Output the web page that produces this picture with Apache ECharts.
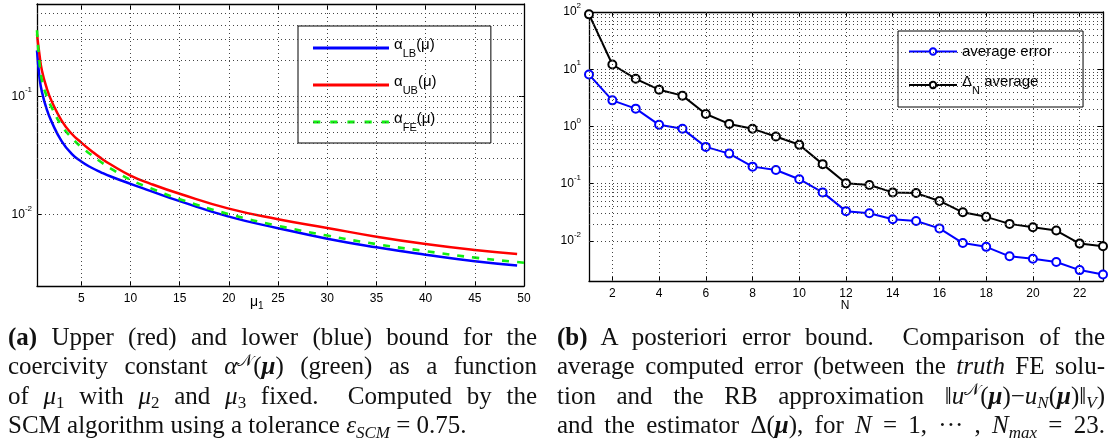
<!DOCTYPE html>
<html><head><meta charset="utf-8">
<script src="https://cdn.jsdelivr.net/npm/echarts@6/dist/echarts.min.js"></script>
<style>
html,body{margin:0;padding:0;background:#fff;}
#wrap{position:relative;width:1110px;height:441px;overflow:hidden;background:#fff;}
#chart{position:absolute;left:0;top:0;width:1110px;height:441px;}
.cap{position:absolute;font-family:'Liberation Serif','DejaVu Serif',serif;font-size:25px;line-height:29.3px;color:#111;}
.cap .l{white-space:nowrap;text-align:justify;text-align-last:justify;}
.cap .last{white-space:nowrap;text-align:left;}
.cap sub,.cap sup{font-size:68%;line-height:0;position:relative;vertical-align:baseline;}
.cap sup{top:-0.48em;}
.cap sub{top:0.28em;}
</style>
</head><body>
<div id="wrap">
<div id="chart"></div>
<div class="cap" style="left:8px;top:322px;width:529px;">
 <div class="l"><b>(a)</b> Upper (red) and lower (blue) bound for the</div>
 <div class="l">coercivity constant <i>α</i><sup>𝒩</sup>(<b><i>μ</i></b>) (green) as a function</div>
 <div class="l">of <i>μ</i><sub>1</sub> with <i>μ</i><sub>2</sub> and <i>μ</i><sub>3</sub> fixed.&nbsp; Computed by the</div>
 <div class="last">SCM algorithm using a tolerance <i>ε</i><sub><i>SCM</i></sub> = 0.75.</div>
</div>
<div class="cap" style="left:557px;top:322px;width:548px;">
 <div class="l"><b>(b)</b> A posteriori error bound.&nbsp; Comparison of the</div>
 <div class="l">average computed error (between the <i>truth</i> FE solu-</div>
 <div class="l">tion and the RB approximation ‖<i>u</i><sup>𝒩</sup>(<b><i>μ</i></b>)−<i>u</i><sub><i>N</i></sub>(<b><i>μ</i></b>)‖<sub><i>V</i></sub>)</div>
 <div class="l">and the estimator Δ(<b><i>μ</i></b>), for <i>N</i> = 1, ··· , <i>N</i><sub><i>max</i></sub> = 23.</div>
</div>
</div>
<script>
// ---------- (a) coercivity bounds vs mu_1 ----------
const mu1 = [0.5, 0.75, 1, 1.5, 2, 3, 4, 5, 6, 7, 8, 10, 12, 15, 20, 25, 30, 35, 40, 45, 49.3];
const alphaLB = [0.243, 0.145, 0.1087, 0.0769, 0.0604, 0.0418, 0.0328, 0.0281, 0.0250, 0.0228, 0.0210, 0.0182, 0.0159, 0.0130, 0.00962, 0.00769, 0.00627, 0.00530, 0.00459, 0.00404, 0.00372];
const alphaUB = [0.333, 0.225, 0.165, 0.116, 0.0902, 0.0623, 0.0484, 0.0406, 0.0347, 0.0300, 0.0265, 0.0214, 0.0183, 0.0150, 0.01124, 0.00916, 0.00773, 0.00652, 0.00565, 0.00503, 0.00466];
const mu1FE = [0.5, 0.75, 1, 1.5, 2, 3, 4, 5, 6, 7, 8, 10, 12, 15, 20, 25, 30, 35, 40, 45, 50];
const alphaFE = [0.36, 0.193, 0.136, 0.0994, 0.080, 0.0565, 0.0448, 0.0372, 0.0320, 0.0278, 0.0245, 0.0197, 0.0168, 0.0135, 0.0101, 0.00806, 0.00666, 0.00564, 0.00492, 0.00434, 0.00393];
const leftXTicks = [5, 10, 15, 20, 25, 30, 35, 40, 45, 50];
const leftGridX = [5, 10, 15, 20, 25, 30, 35, 40, 45];
const leftGridY = [0.003, 0.004, 0.005, 0.006, 0.007, 0.008, 0.009, 0.01, 0.02, 0.03, 0.04, 0.05, 0.06, 0.07, 0.08, 0.09, 0.1, 0.2, 0.3, 0.4, 0.5];

// ---------- (b) a posteriori error bound ----------
const N = [1, 2, 3, 4, 5, 6, 7, 8, 9, 10, 11, 12, 13, 14, 15, 16, 17, 18, 19, 20, 21, 22, 23];
const avgError = [8.07, 2.86, 2.05, 1.07, 0.91, 0.44, 0.336, 0.199, 0.174, 0.120, 0.0706, 0.0332, 0.0306, 0.0240, 0.0224, 0.0166, 0.0092, 0.0079, 0.0054, 0.0049, 0.0043, 0.0031, 0.0026];
const deltaAvg = [91, 12.1, 6.8, 4.4, 3.46, 1.65, 1.11, 0.91, 0.67, 0.48, 0.22, 0.1016, 0.095, 0.0706, 0.0687, 0.050, 0.0317, 0.0264, 0.0199, 0.0174, 0.0152, 0.0090, 0.0081];
const rightXTicks = [2, 4, 6, 8, 10, 12, 14, 16, 18, 20, 22];
const rightGridY = [0.003, 0.004, 0.005, 0.006, 0.007, 0.008, 0.009, 0.01, 0.02, 0.03, 0.04, 0.05, 0.06, 0.07, 0.08, 0.09,
  0.1, 0.2, 0.3, 0.4, 0.5, 0.6, 0.7, 0.8, 0.9, 1, 2, 3, 4, 5, 6, 7, 8, 9, 10, 20, 30, 40, 50, 60, 70, 80, 90];

const FONT = "'Liberation Sans', Arial, Helvetica, sans-serif";
const BLACK = '#000';

function logLabel(v) {
  const l = Math.log10(v), e = Math.round(l);
  if (Math.abs(l - e) > 1e-6) return '';
  return '{b|10}{s|' + e + '}';
}
const logRich = {
  b: {fontSize: 12, lineHeight: 20, fontFamily: FONT, color: BLACK},
  s: {fontSize: 8, lineHeight: 9, verticalAlign: 'top', fontFamily: FONT, color: BLACK}
};
const axisLine = {show: true, onZero: false, lineStyle: {color: BLACK, width: 1.3}};
const gridLineStyle = {color: '#444', width: 1, type: [1, 3]};

function xAx(grid, min, max, ticks, pos, labels) {
  return {
    type: 'value', gridIndex: grid, min: min, max: max, position: pos,
    axisLine: axisLine, splitLine: {show: false},
    axisTick: {show: true, inside: true, length: 5, customValues: ticks, lineStyle: {color: BLACK, width: 1}},
    axisLabel: {show: labels, customValues: ticks, fontFamily: FONT, fontSize: 12, color: BLACK, margin: 7}
  };
}
function yAx(grid, min, max, pos, labels, margin) {
  return {
    type: 'log', logBase: 10, gridIndex: grid, min: min, max: max, position: pos,
    axisLine: axisLine, splitLine: {show: false},
    axisTick: {show: true, inside: true, length: 5, lineStyle: {color: BLACK, width: 1}},
    axisLabel: {show: labels, formatter: logLabel, rich: logRich, margin: margin, showMinLabel: false, showMaxLabel: labels}
  };
}
function gridLines(xs, ys) {
  return {
    silent: true, symbol: ['none', 'none'], animation: false,
    label: {show: false}, emphasis: {disabled: true},
    lineStyle: gridLineStyle,
    data: ys.map(v => ({yAxis: v})).concat(xs.map(v => ({xAxis: v})))
  };
}
const pairs = (xs, ys) => xs.map((x, i) => [x, ys[i]]);

const legendRich = {
  a: {fontSize: 15, lineHeight: 12, verticalAlign: 'top', fontFamily: FONT, color: BLACK},
  s: {fontSize: 11, lineHeight: 17, verticalAlign: 'bottom', fontFamily: FONT, color: BLACK},
  b: {fontSize: 15, lineHeight: 22, fontFamily: FONT, color: BLACK},
  c: {fontSize: 15, lineHeight: 12, verticalAlign: 'top', fontFamily: FONT, color: BLACK},
  t: {fontSize: 11, lineHeight: 18, verticalAlign: 'bottom', fontFamily: FONT, color: BLACK},
  z: {fontSize: 1, lineHeight: 22}
};
const legendText = {
  'α_LB(μ)': '{a|α}{s|LB}{a|(μ)}{z| }',
  'α_UB(μ)': '{a|α}{s|UB}{a|(μ)}{z| }',
  'α_FE(μ)': '{a|α}{s|FE}{a|(μ)}{z| }',
  'average error': '{b|average error}',
  'Δ_N average': '{c|Δ}{t|N}{c| average}{z| }'
};
const dashIcon = 'path://M0,0h6.7v2.8h-6.7z M16,0h6.7v2.8h-6.7z M32,0h6.7v2.8h-6.7z M48,0h6.7v2.8h-6.7z M64,0h6.7v2.8h-6.7z';

const option = {
  animation: false,
  backgroundColor: '#fff',
  grid: [
    {left: 37, top: 4, width: 487, height: 282, outerBoundsMode: 'none'},
    {left: 589, top: 12, width: 514, height: 269, outerBoundsMode: 'none'}
  ],
  xAxis: [
    xAx(0, 0.5, 50, leftXTicks, 'bottom', true),
    xAx(0, 0.5, 50, leftXTicks, 'top', false),
    xAx(1, 1, 23, rightXTicks, 'bottom', true),
    xAx(1, 1, 23, rightXTicks, 'top', false)
  ],
  yAxis: [
    yAx(0, 0.0025, 0.6, 'left', true, 5),
    yAx(0, 0.0025, 0.6, 'right', false, 5),
    yAx(1, 0.002, 100, 'left', true, 8),
    yAx(1, 0.002, 100, 'right', false, 8)
  ],
  legend: [
    {
      data: [{name: 'α_LB(μ)', icon: 'rect'}, {name: 'α_UB(μ)', icon: 'rect'}, {name: 'α_FE(μ)', icon: dashIcon}],
      orient: 'vertical', left: 298, top: 26,
      itemWidth: 76, itemHeight: 3, itemGap: 15, padding: [11, 54, 10, 15],
      borderColor: BLACK, borderWidth: 1, backgroundColor: '#fff', borderRadius: 0,
      formatter: n => legendText[n], textStyle: {rich: legendRich}, selectedMode: false
    },
    {
      data: ['average error', 'Δ_N average'], orient: 'vertical', left: 898, top: 31,
      itemWidth: 48, itemHeight: 8, itemGap: 15, padding: [13, 31, 11, 10],
      borderColor: BLACK, borderWidth: 1, backgroundColor: '#fff', borderRadius: 0,
      formatter: n => legendText[n], textStyle: {rich: legendRich}, selectedMode: false
    }
  ],
  graphic: [
    {type: 'text', x: 250, y: 302, style: {text: '{m|μ}{s|1}', verticalAlign: 'middle', align: 'left',
      rich: {m: {fontSize: 14, lineHeight: 14, fontFamily: FONT, fill: BLACK}, s: {fontSize: 10, lineHeight: 18, verticalAlign: 'bottom', fontFamily: FONT, fill: BLACK}}}},
    {type: 'text', x: 845, y: 306, style: {text: 'N', fontSize: 12, fontFamily: FONT, fill: BLACK, align: 'center', verticalAlign: 'middle'}}
  ],
  series: [
    {name: 'gridA', type: 'line', xAxisIndex: 0, yAxisIndex: 0, data: [], silent: true, z: 1,
      markLine: gridLines(leftGridX, leftGridY)},
    {name: 'α_LB(μ)', type: 'line', xAxisIndex: 0, yAxisIndex: 0, data: pairs(mu1, alphaLB),
      symbol: 'none', smooth: 0.5, lineStyle: {color: '#0000ff', width: 2.5}, itemStyle: {color: '#0000ff'}, z: 3},
    {name: 'α_UB(μ)', type: 'line', xAxisIndex: 0, yAxisIndex: 0, data: pairs(mu1, alphaUB),
      symbol: 'none', smooth: 0.5, lineStyle: {color: '#ff0000', width: 2.5}, itemStyle: {color: '#ff0000'}, z: 3},
    {name: 'α_FE(μ)', type: 'line', xAxisIndex: 0, yAxisIndex: 0, data: pairs(mu1FE, alphaFE),
      symbol: 'none', smooth: 0.5, lineStyle: {color: '#11ee11', width: 2.6, type: [7, 8]}, itemStyle: {color: '#11ee11'}, z: 4},
    {name: 'gridB', type: 'line', xAxisIndex: 2, yAxisIndex: 2, data: [], silent: true, z: 1,
      markLine: gridLines(rightXTicks, rightGridY)},
    {name: 'average error', type: 'line', xAxisIndex: 2, yAxisIndex: 2, data: pairs(N, avgError),
      symbol: 'emptyCircle', symbolSize: 8, showAllSymbol: true,
      lineStyle: {color: '#0000ff', width: 2}, itemStyle: {color: '#0000ff', borderWidth: 1.8}, z: 3},
    {name: 'Δ_N average', type: 'line', xAxisIndex: 2, yAxisIndex: 2, data: pairs(N, deltaAvg),
      symbol: 'emptyCircle', symbolSize: 8, showAllSymbol: true,
      lineStyle: {color: '#000000', width: 2}, itemStyle: {color: '#000000', borderWidth: 1.8}, z: 3}
  ]
};
const chart = echarts.init(document.getElementById('chart'), null, {renderer: 'canvas'});
chart.setOption(option);
</script>
</body></html>
